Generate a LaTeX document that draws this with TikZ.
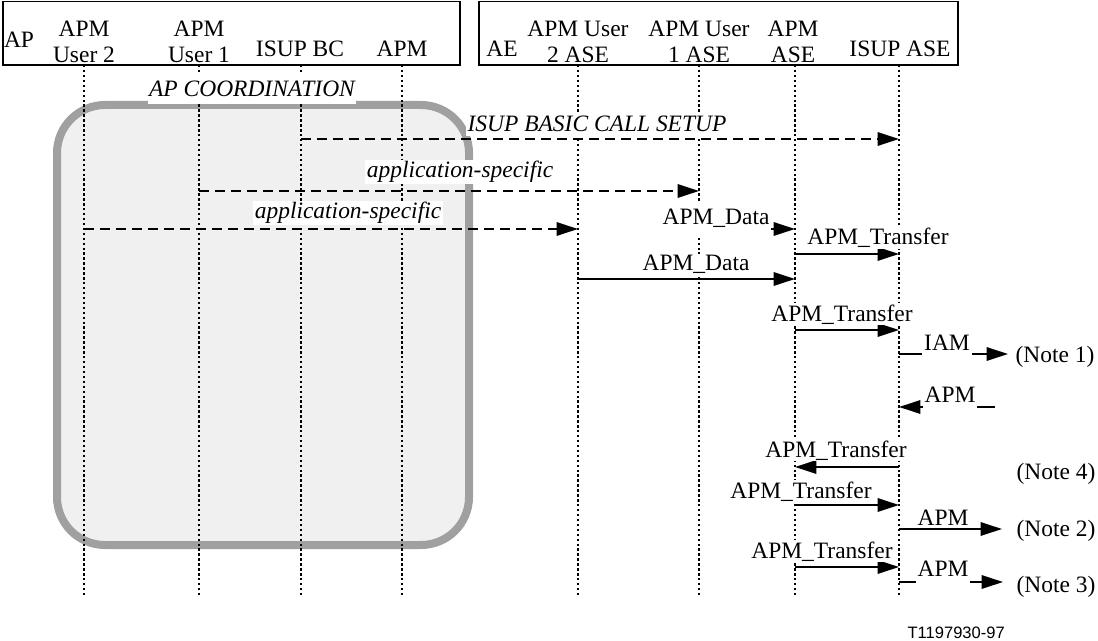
\documentclass[tikz,border=0pt]{standalone}
\usepackage{fontspec}
\setmainfont{Liberation Serif}
\newfontfamily\figsans{Liberation Sans}
\usetikzlibrary{arrows.meta}

\begin{document}
\begin{tikzpicture}[x=0.75pt,y=0.75pt,yscale=-1,xscale=1,
        every node/.style={font=\fontsize{17.6}{19.5}\selectfont, inner sep=1pt},
        lifeline/.style={line width=1.5pt, dash pattern=on 1.8pt off 1.9pt},
        msg/.style={line width=1.5pt, -{Triangle[length=16pt,width=10pt]}},
        dmsg/.style={msg, dash pattern=on 7.5pt off 4.5pt},
        lbl/.style={fill=white, anchor=base},
        onlbl/.style={lbl, inner xsep=1.5pt, inner ysep=5.5pt},
        hdr/.style={align=center}]
        \useasboundingbox (0,0) rectangle (1098,641);

        %Shape: Rounded Rect
        \draw  [draw={rgb, 255:red, 160; green, 160; blue, 160 }  ,fill={rgb, 255:red, 240; green, 240; blue, 240 }  ,line width=6pt  ,rounded corners=36pt] (57,105) rectangle (469,545) ;
        %Shape: Rectangle
        \draw  [line width=1.1pt] (3,1.5) rectangle (460,65) ;
        %Shape: Rectangle
        \draw  [line width=1.1pt] (479,1.5) rectangle (958,65) ;

        % Text Node
        \node [anchor=base] (hap) at (19,48) {AP};
        \node [hdr] (husr2) at (84,42) {APM\\User 2};
        \node [hdr] (husr1) at (199,42) {APM\\User 1};
        \node [anchor=base] (hisupbc) at (300,57) {ISUP BC};
        \node [anchor=base] (hapm) at (402,57) {APM};
        \node [anchor=base] (hae) at (502,57) {AE};
        \node [hdr] (hase2) at (578,42) {APM User\\2 ASE};
        \node [hdr] (hase1) at (699,42) {APM User\\1 ASE};
        \node [hdr] (hapmase) at (793,42) {APM\\ASE};
        \node [anchor=base] (hisupase) at (900,57) {ISUP ASE};

        % Lifelines
        \coordinate (usr2) at (84,65);
        \coordinate (usr1) at (199,65);
        \coordinate (isupbc) at (301,65);
        \coordinate (apm) at (402,65);
        \coordinate (ase2) at (578,65);
        \coordinate (ase1) at (699,65);
        \coordinate (apmase) at (795,65);
        \coordinate (isupase) at (899,65);
        \foreach \ll in {usr2,usr1,isupbc,apm,ase2,ase1,apmase,isupase}
            \draw [lifeline] (\ll) -- (\ll |- 0,597) ;

        % free ends
        \coordinate (iamout) at (1008,354);
        \coordinate (apmin) at (995,407);
        \coordinate (apmout2) at (1002,529);
        \coordinate (apmout3) at (1003,582);

        %Straight Lines
        \draw [dmsg] (isupbc |- 0,139) -- (isupase |- 0,139) ;
        \draw [dmsg] (usr1 |- 0,191) -- (ase1 |- 0,191) ;
        \draw [dmsg] (usr2 |- 0,229) -- (ase2 |- 0,229) ;
        \draw [msg] (ase1 |- 0,229) -- (apmase |- 0,229) ;
        \draw [msg] (apmase |- 0,254) -- (isupase |- 0,254) ;
        \draw [msg] (ase2 |- 0,279) -- (apmase |- 0,279) ;
        \draw [msg] (apmase |- 0,330) -- (isupase |- 0,330) ;
        \draw [msg] (isupase |- 0,354) -- (iamout) ;
        \draw [msg] (apmin) -- (isupase |- 0,407) ;
        \draw [msg] (isupase |- 0,467) -- (apmase |- 0,467) ;
        \draw [msg] (apmase |- 0,505) -- (isupase |- 0,505) ;
        \draw [msg] (isupase |- 0,529) -- (apmout2) ;
        \draw [msg] (apmase |- 0,567) -- (isupase |- 0,567) ;
        \draw [msg] (isupase |- 0,582) -- (apmout3) ;

        % Text Node
        \node [lbl, inner ysep=5pt] (tcoord) at (252,97) {\itshape AP COORDINATION};
        \node [lbl, inner ysep=3pt] (tsetup) at (597,132) {\itshape ISUP BASIC CALL SETUP};
        \node [lbl] (tapp1) at (460,178) {\itshape application-specific};
        \node [lbl] (tapp2) at (348,219) {\itshape application-specific};
        \node [onlbl] (tdata1) at (716,225) {APM\_Data};
        \node [lbl] (ttrans1) at (878,245) {APM\_Transfer};
        \node [lbl] (tdata2) at (696,271) {APM\_Data};
        \node [lbl] (ttrans2) at (842,321) {APM\_Transfer};
        \node [onlbl] (tiam) at (947,350) {IAM};
        \node [onlbl] (tapmin) at (950,402) {APM};
        \node [lbl] (ttrans3) at (836,457) {APM\_Transfer};
        \node [lbl] (ttrans4) at (801,498) {APM\_Transfer};
        \node [lbl] (tapm2) at (943,525) {APM};
        \node [lbl] (ttrans5) at (822,558) {APM\_Transfer};
        \node [onlbl] (tapm3) at (943,576) {APM};

        % Notes
        \node [anchor=base west] (note1) at (1014,362) {(Note 1)};
        \node [anchor=base west] (note4) at (1015,479) {(Note 4)};
        \node [anchor=base west] (note2) at (1015,536) {(Note 2)};
        \node [anchor=base west] (note3) at (1015,592) {(Note 3)};

        \node [anchor=base west, font=\figsans\fontsize{12.4}{14}\selectfont] (tnum) at (906,638) {T1197930-97};

\end{tikzpicture}
\end{document}
